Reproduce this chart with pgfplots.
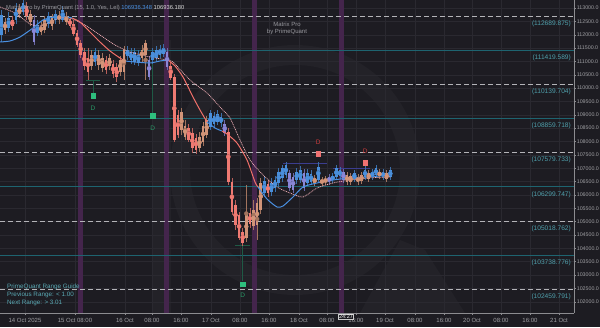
\documentclass[border=0pt]{standalone}
\usepackage{pgfplots}
\pgfplotsset{compat=1.18}
\usepackage{pgfplotstable}
\usepackage{fontspec}
\setmainfont{Liberation Sans}
\definecolor{bg}{HTML}{1D1C22}
\definecolor{logo}{HTML}{232228}
\definecolor{gridc}{HTML}{2A2930}
\definecolor{axisc}{HTML}{8C8C90}
\definecolor{tickc}{HTML}{A0A0A4}
\definecolor{levdash}{HTML}{B4B4B8}
\definecolor{levteal}{HTML}{1E6470}
\definecolor{levtext}{HTML}{4FA0AC}
\definecolor{cBlue}{HTML}{4A8FDB}
\definecolor{cPurple}{HTML}{8A86D6}
\definecolor{cSalmon}{HTML}{EF7A72}
\definecolor{cTan}{HTML}{D29478}
\definecolor{wBlue}{HTML}{3A6EA8}
\definecolor{wPurple}{HTML}{6A67A6}
\definecolor{wSalmon}{HTML}{B85F5A}
\definecolor{wTan}{HTML}{A2745E}
\definecolor{fastBlue}{HTML}{4A90E2}
\definecolor{fastRed}{HTML}{F0706A}
\definecolor{slowc}{HTML}{F2B0B8}
\definecolor{mGreen}{HTML}{2EBF7E}
\definecolor{dGreen}{HTML}{2A9A68}
\definecolor{stemGreen}{HTML}{1F5A45}
\definecolor{mRed}{HTML}{F07272}
\definecolor{dRed}{HTML}{D03C3C}
\definecolor{navyc}{HTML}{3B3D8F}
\definecolor{bandc}{HTML}{44254C}
\definecolor{titlec}{HTML}{9A9AA0}
\definecolor{guidec}{HTML}{5AAAB5}
\newcommand{\fs}[1]{\fontsize{#1}{#1}\selectfont}

\pgfplotstableread{
x o h l c
1.5 111989 112926 111727 112738
8.7 112251 112851 112102 112626
15.9 112551 113188 112401 113000
23.1 112851 113300 112738 113188
37.5 112064 112551 111952 112364
48.3 112401 112851 112251 112701
55.5 112551 112926 112401 112776
62.7 112551 113075 112476 112926
95.1 110978 111502 110828 111353
127.5 111203 111577 111053 111428
131.1 111053 111502 110903 111353
134.7 110978 111502 110866 111353
138.3 110941 111428 110828 111240
152.7 111053 111502 110903 111353
156.3 111128 111577 110978 111428
159.9 111240 111615 111128 111465
163.5 111278 111652 111165 111502
210.3 108544 109181 108432 109068
213.9 108656 109106 108506 108956
217.5 108731 109181 108619 109031
221.1 108694 109068 108544 108918
264.3 106072 106709 105922 106522
271.5 106110 106634 105960 106447
275.1 106259 106709 106110 106559
278.7 106447 107008 106297 106859
282.3 106634 107121 106484 107008
285.9 106746 107233 106634 107121
296.7 106559 107008 106409 106859
300.3 106559 107083 106447 106934
307.5 106447 106971 106334 106821
311.1 106484 106934 106372 106784
318.3 106559 107233 106447 107046
332.7 106559 106821 106447 106709
336.3 106671 107121 106559 107008
339.9 106709 107046 106596 106934
354.3 106596 106934 106484 106821
365.1 106671 107083 106559 106934
372.3 106671 106971 106559 106859
375.9 106746 107121 106634 107008
383.1 106671 106971 106559 106859
390.3 106671 107046 106559 106934
}\tblue

\pgfplotstableread{
x o h l c
33.9 112551 112738 111615 111727
149.1 111053 111203 110304 110416
167.1 111353 111502 110679 110791
224.7 108656 108806 108207 108319
289.5 106821 106934 106147 106259
293.1 106671 106821 106072 106185
303.9 106821 106971 106147 106259
329.1 106671 106784 106372 106484
343.5 106859 106971 106447 106559
}\tpurple

\pgfplotstableread{
x o h l c
12.3 112551 112701 112177 112326
26.7 113075 113225 112551 112701
69.9 112588 112663 112251 112326
73.5 112401 112551 111952 112027
77.1 112064 112177 111540 111615
80.7 111690 111802 111128 111240
84.3 111353 111502 110679 110828
87.9 111128 111502 110304 110604
105.9 111053 111203 110529 110679
113.1 110903 111053 110379 110529
116.7 110791 110941 110229 110416
170.7 110828 110978 110304 110379
174.3 110416 110529 107982 108057
177.9 108993 109181 108132 108244
188.7 108506 108656 107982 108057
192.3 108319 108506 107570 107757
195.9 108132 108282 107533 107683
228.3 108357 108506 106372 106484
231.9 106484 106634 105248 105361
235.5 105623 105810 104687 104874
239.1 105248 105361 104312 104387
242.7 104612 104761 104087 104200
249.9 105323 105510 104761 104911
267.9 106409 106559 105922 106072
}\tsalmon

\pgfplotstableread{
x o h l c
5.1 112476 112626 112027 112177
19.5 113000 113150 112626 112776
30.3 112776 112926 112326 112476
41.1 112326 112476 111989 112102
44.7 112551 112701 112064 112177
51.9 112626 112776 112177 112326
59.1 112738 112888 112401 112551
66.3 112701 112851 112364 112476
91.5 111240 111428 110679 110828
98.7 111240 111428 110679 110866
102.3 111128 111315 110604 110753
109.5 111128 111278 110679 110828
120.3 111053 111203 110454 110604
123.9 111428 111577 110304 110604
141.9 111428 111615 110978 111128
145.5 111690 111802 110304 111240
181.5 109106 109256 108244 108432
185.1 108581 108806 108057 108169
199.5 108169 108357 107608 107757
203.1 108581 108731 107832 107982
206.7 108806 108956 108132 108244
246.3 104387 106372 104237 105248
253.5 104836 105810 104687 105436
257.1 104874 105885 104312 105698
260.7 105436 106634 105286 106447
314.7 106634 106746 106334 106447
321.9 106559 106671 106334 106447
325.5 106596 106709 106372 106484
347.1 106746 106859 106372 106484
350.7 106709 106821 106372 106484
357.9 106671 106784 106372 106484
361.5 106746 106859 106409 106522
368.7 106821 106934 106484 106596
379.5 106859 106971 106596 106709
386.7 106821 106934 106484 106596
}\ttan

\pgfplotsset{
  wick/.style={color=#1, only marks, mark=none, forget plot,
    error bars/.cd, y dir=both, y explicit, error mark=none,
    error bar style={line width=0.45pt, color=#1}},
  body/.style={color=#1, only marks, mark=none, forget plot,
    error bars/.cd, y dir=both, y explicit, error mark=none,
    error bar style={line width=2.7pt, color=#1}},
  levd/.style={draw=levdash, line width=0.6pt, dash pattern=on 5pt off 3pt, forget plot},
  levt/.style={draw=levteal, line width=0.9pt, forget plot},
  fastb/.style={draw=fastBlue, line width=1pt, smooth, tension=0.4, forget plot},
  fastr/.style={draw=fastRed, line width=1pt, smooth, tension=0.4, forget plot},
}
\newcommand{\wicks}[2]{\addplot[wick=#2] table[x=x, y expr={(\thisrow{h}+\thisrow{l})/2}, y error expr={(\thisrow{h}-\thisrow{l})/2}] {#1};}
\newcommand{\bodies}[2]{\addplot[body=#2] table[x=x, y expr={(\thisrow{o}+\thisrow{c})/2}, y error expr={max(abs(\thisrow{o}-\thisrow{c})/2,15)}] {#1};}

\begin{document}
\begin{tikzpicture}[x=1pt,y=1pt]
\fill[bg] (0,-14) rectangle (600,313);
\begin{scope}
\clip (0,0) rectangle (574,313);
\draw[logo, line width=20pt] (295,143) circle (115pt);
\fill[logo] (153,0) rectangle (171,273);
\fill[logo] (360,0) -- (400,73) -- (425,63) -- (465,0) -- cycle;
\end{scope}
\begin{axis}[
  at={(0,0)}, anchor=south west,
  scale only axis, width=574pt, height=313pt,
  xmin=0, xmax=574, ymin=101578, ymax=113300,
  axis x line*=bottom, axis y line*=right,
  axis line style={draw=axisc, line width=0.6pt, -},
  tick align=outside, major tick length=2pt,
  tick style={draw=axisc, line width=0.4pt},
  scaled y ticks=false,
  ytick={102000,102500,103000,103500,104000,104500,105000,105500,106000,106500,107000,107500,108000,108500,109000,109500,110000,110500,111000,111500,112000,112500,113000},
  xtick={25,75,125,152,181,211,240,269,299,327,356,385,415,444,472,501,530,559},
  xticklabels={14 Oct 2025,15 Oct 08:00,16 Oct,08:00,16:00,17 Oct,08:00,16:00,18 Oct,08:00,16:00,19 Oct,08:00,16:00,20 Oct,08:00,16:00,21 Oct},
  grid=major, major grid style={draw=gridc, line width=0.4pt},
  /pgf/number format/assume math mode=true,
  /pgf/number format/fixed,
  /pgf/number format/fixed zerofill,
  /pgf/number format/precision=1,
  /pgf/number format/1000 sep={},
  yticklabel style={font=\fs{5.3}, color=tickc, inner xsep=0.6pt},
  xticklabel style={font=\fs{6}, color=tickc},
]
% session bands
\fill[bandc] (axis cs:77.5,101578) rectangle (axis cs:82.5,113300);
\fill[bandc] (axis cs:164,101578) rectangle (axis cs:169,113300);
\fill[bandc] (axis cs:251.5,101578) rectangle (axis cs:256.5,113300);
\fill[bandc] (axis cs:338.5,101578) rectangle (axis cs:343.5,113300);

% levels
\addplot[levd] coordinates {(0,112689.875) (574,112689.875)};
\addplot[levt] coordinates {(0,111419.589) (574,111419.589)};
\addplot[levd] coordinates {(0,110139.704) (574,110139.704)};
\addplot[levt] coordinates {(0,108859.718) (574,108859.718)};
\addplot[levd] coordinates {(0,107579.733) (574,107579.733)};
\addplot[levt] coordinates {(0,106299.747) (574,106299.747)};
\addplot[levd] coordinates {(0,105018.762) (574,105018.762)};
\addplot[levt] coordinates {(0,103738.776) (574,103738.776)};
\addplot[levd] coordinates {(0,102459.791) (574,102459.791)};

% small range lines
\addplot[draw=stemGreen, line width=0.7pt, forget plot] coordinates {(86,110304) (100,110304)};
\addplot[draw=stemGreen, line width=0.7pt, forget plot] coordinates {(235,104125) (250,104125)};
\addplot[draw=navyc, line width=0.7pt, forget plot] coordinates {(283,107196) (327,107196)};
\addplot[draw=navyc, line width=0.7pt, forget plot] coordinates {(333,107008) (370,107008)};
\addplot[draw=stemGreen, line width=0.5pt, forget plot] coordinates {(93,110304) (93,109817)};
\addplot[draw=stemGreen, line width=0.5pt, forget plot] coordinates {(152.7,110903) (152.7,109068)};
\addplot[draw=stemGreen, line width=0.5pt, forget plot] coordinates {(242.7,104087) (242.7,102777)};

% candles
\wicks{\tblue}{wBlue}
\wicks{\tpurple}{wPurple}
\wicks{\tsalmon}{wSalmon}
\wicks{\ttan}{wTan}
\bodies{\tblue}{cBlue}
\bodies{\tpurple}{cPurple}
\bodies{\tsalmon}{cSalmon}
\bodies{\ttan}{cTan}

% slow average
\addplot[draw=slowc, line width=0.7pt, dash pattern=on 1pt off 0.8pt, smooth, tension=0.4, forget plot] coordinates {(0,113038) (15,112813) (30,112401) (40,112326) (50,112476) (60,112626) (70,112626) (85,112364) (100,111989) (115,111615) (130,111353) (150,111165) (167,111053) (173,110978) (190,110304) (207,109817) (220,109293) (230,108881) (240,108057) (250,107308) (263,106746) (277,106297) (290,106072) (303,105922) (317,106259) (333,106447) (350,106559) (367,106634) (391,106671)};

% fast average
\addplot[fastb] coordinates {(0,111727) (10,111765) (20,111914) (33,112251) (43,112551) (55,112663) (67,112663) (72,112626)};
\addplot[fastr] coordinates {(72,112626) (80,112476) (90,112102) (100,111727) (110,111390) (120,111128) (125,111016)};
\addplot[fastb] coordinates {(125,111016) (135,110978) (150,110941) (160,111016) (168,111053)};
\addplot[fastr] coordinates {(168,111053) (175,110828) (183,110416) (193,109668) (200,109181) (207,108731)};
\addplot[fastb] coordinates {(207,108731) (215,108506) (222,108394)};
\addplot[fastr] coordinates {(222,108394) (227,108282) (237,107945) (247,107308) (255,106484) (258,106297)};
\addplot[fastb] coordinates {(258,106297) (267,105847) (277,105548) (283,105585) (293,105922) (303,106297) (317,106447) (333,106559) (350,106634) (367,106671) (391,106746)};

% signal markers
\addplot[only marks, mark=square*, mark size=2.3pt, color=mGreen, forget plot] coordinates {(93,109705) (152.7,108956) (242.7,102664)};
\addplot[only marks, mark=square*, mark size=2.3pt, color=mRed, forget plot] coordinates {(318.3,107533) (365.1,107196)};
\node[font=\fs{6.5}, text=dGreen] at (axis cs:93,109255) {D};
\node[font=\fs{6.5}, text=dGreen] at (axis cs:152.7,108506) {D};
\node[font=\fs{6.5}, text=dGreen] at (axis cs:242.7,102252) {D};
\node[font=\fs{6.5}, text=dRed] at (axis cs:318.3,107982) {D};
\node[font=\fs{6.5}, text=dRed] at (axis cs:365.1,107645) {D};

% level labels
\node[anchor=east, font=\fs{6.6}, text=levtext, inner sep=0pt] at (axis cs:571,112409) {(112689.875)};
\node[anchor=east, font=\fs{6.6}, text=levtext, inner sep=0pt] at (axis cs:571,111139) {(111419.589)};
\node[anchor=east, font=\fs{6.6}, text=levtext, inner sep=0pt] at (axis cs:571,109859) {(110139.704)};
\node[anchor=east, font=\fs{6.6}, text=levtext, inner sep=0pt] at (axis cs:571,108579) {(108859.718)};
\node[anchor=east, font=\fs{6.6}, text=levtext, inner sep=0pt] at (axis cs:571,107299) {(107579.733)};
\node[anchor=east, font=\fs{6.6}, text=levtext, inner sep=0pt] at (axis cs:571,106019) {(106299.747)};
\node[anchor=east, font=\fs{6.6}, text=levtext, inner sep=0pt] at (axis cs:571,104738) {(105018.762)};
\node[anchor=east, font=\fs{6.6}, text=levtext, inner sep=0pt] at (axis cs:571,103458) {(103738.776)};
\node[anchor=east, font=\fs{6.6}, text=levtext, inner sep=0pt] at (axis cs:571,102179) {(102459.791)};
\end{axis}

% texts
\node[anchor=west, font=\fs{5.8}, inner sep=0pt] at (6,305) {\textcolor{titlec}{Matrix Pro by PrimeQuant (15, 1.0, Yes, Lel)}\ \textcolor{fastBlue}{106936.348}\ \textcolor{white!85!black}{106936.180}};
\node[font=\fs{6}, text=titlec, inner sep=0pt] at (287,289) {Matrix Pro};
\node[font=\fs{6}, text=titlec, inner sep=0pt] at (287,281) {by PrimeQuant};
\node[anchor=west, font=\fs{6.3}, text=guidec, inner sep=0pt] at (7,26) {PrimeQuant Range Guide};
\node[anchor=west, font=\fs{6.3}, text=guidec, inner sep=0pt] at (7,18) {Previous Range: < 1.00};
\node[anchor=west, font=\fs{6.3}, text=guidec, inner sep=0pt] at (7,10) {Next Range: > 3.01};
\node[draw=white!80!black, fill=bg, text=white, font=\fs{5.5}, inner sep=0.8pt, line width=0.4pt] at (346,-3.8) {24:27};

\pgfresetboundingbox
\path[use as bounding box] (0,-14) rectangle (600,313);
\end{tikzpicture}
\end{document}
